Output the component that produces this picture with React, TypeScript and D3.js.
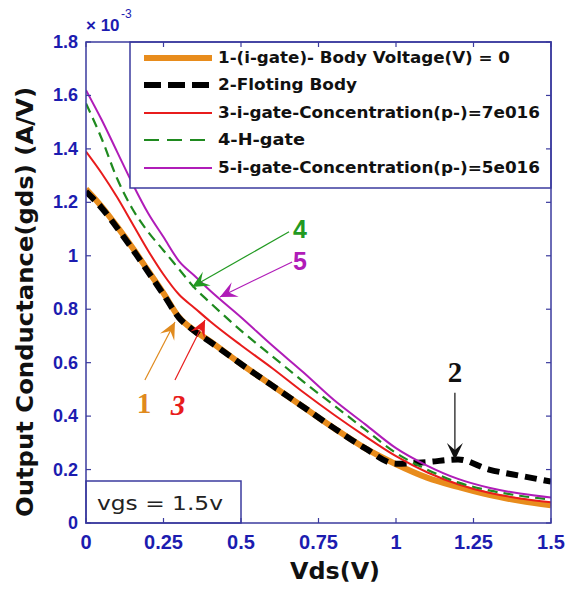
import React from "react";
import * as d3 from "d3";

const X = [0, 0.05, 0.1, 0.15, 0.2, 0.25, 0.3, 0.35, 0.4, 0.5, 0.6, 0.7, 0.8, 0.9, 1.0, 1.1, 1.2, 1.3, 1.4, 1.5];
const ORANGE = [1.25, 1.185, 1.11, 1.03, 0.945, 0.86, 0.77, 0.72, 0.68, 0.595, 0.515, 0.435, 0.355, 0.28, 0.22, 0.17, 0.135, 0.105, 0.083, 0.066];
const BLACK = [1.24, 1.18, 1.105, 1.025, 0.94, 0.855, 0.768, 0.718, 0.678, 0.595, 0.515, 0.435, 0.355, 0.28, 0.222, 0.228, 0.238, 0.2, 0.177, 0.155];
const RED = [1.39, 1.31, 1.22, 1.12, 1.02, 0.93, 0.855, 0.805, 0.755, 0.665, 0.58, 0.49, 0.405, 0.325, 0.25, 0.19, 0.145, 0.113, 0.092, 0.078];
const GREEN = [1.57, 1.44, 1.29, 1.175, 1.09, 1.02, 0.95, 0.88, 0.825, 0.72, 0.625, 0.53, 0.44, 0.35, 0.262, 0.2, 0.152, 0.122, 0.102, 0.088];
const PURPLE = [1.62, 1.51, 1.39, 1.27, 1.16, 1.07, 0.98, 0.925, 0.87, 0.77, 0.665, 0.565, 0.46, 0.37, 0.28, 0.215, 0.165, 0.132, 0.11, 0.095];

const LEGEND = [
  "1-(i-gate)- Body Voltage(V) = 0",
  "2-Floting Body",
  "3-i-gate-Concentration(p-)=7e016",
  "4-H-gate",
  "5-i-gate-Concentration(p-)=5e016",
];
const X_TICKS = [0, 0.25, 0.5, 0.75, 1, 1.25, 1.5];
const X_TICK_LABELS = ["0", "0.25", "0.5", "0.75", "1", "1.25", "1.5"];
const Y_TICKS = [0, 0.2, 0.4, 0.6, 0.8, 1, 1.2, 1.4, 1.6, 1.8];
const Y_TICK_LABELS = ["0", "0.2", "0.4", "0.6", "0.8", "1", "1.2", "1.4", "1.6", "1.8"];

// annotations in data coordinates: label, label baseline pos, arrow tail, arrow tip
const ANNOTATIONS = [
  { label: "4", color: "#229a22", font: "Liberation Sans", italic: false, lx: 0.69, ly: 1.067, tx: 0.655, ty: 1.09, hx: 0.342, hy: 0.883 },
  { label: "5", color: "#b01cb8", font: "Liberation Sans", italic: false, lx: 0.69, ly: 0.947, tx: 0.665, ty: 0.977, hx: 0.432, hy: 0.846 },
  { label: "1", color: "#e08a1e", font: "Liberation Serif", italic: false, lx: 0.187, ly: 0.412, tx: 0.19, ty: 0.535, hx: 0.287, hy: 0.752 },
  { label: "3", color: "#e81c1c", font: "Liberation Serif", italic: true, lx: 0.297, ly: 0.404, tx: 0.287, ty: 0.535, hx: 0.384, hy: 0.76 },
  { label: "2", color: "#111111", font: "Liberation Serif", italic: false, lx: 1.19, ly: 0.528, tx: 1.19, ty: 0.487, hx: 1.19, hy: 0.236 },
];

const W = 567, H = 591;
const L = 86, R = 551, T = 42, B = 523;
const AXIS = "#3b3b9e";
const BLUE = "#1c1cb0";

export default function App() {
  const x = d3.scaleLinear().domain([0, 1.5]).range([L, R]);
  const y = d3.scaleLinear().domain([0, 1.8]).range([B, T]);
  const line = (vals: number[]) =>
    d3.line<number>().x((_, i) => x(X[i])).y((d) => y(d)).curve(d3.curveMonotoneX)(vals) || "";

  const series = [
    { vals: ORANGE, color: "#e88c1c", w: 6, dash: "" },
    { vals: BLACK, color: "#000", w: 6, dash: "12,7" },
    { vals: RED, color: "#e81c1c", w: 2, dash: "" },
    { vals: GREEN, color: "#1f8a1f", w: 2.2, dash: "10,6" },
    { vals: PURPLE, color: "#b01cb8", w: 2, dash: "" },
  ];

  const legendEnds = [510, 357, 540, 305, 540];
  const legendYs = [58, 85, 113, 140, 168];

  const arrowHead = (hx: number, hy: number, tx: number, ty: number) => {
    const dx = hx - tx, dy = hy - ty;
    const len = Math.hypot(dx, dy);
    const ux = dx / len, uy = dy / len;
    const px = -uy, py = ux;
    const Lh = 17, Wh = 8, notch = 10;
    const p1 = [hx, hy];
    const p2 = [hx - ux * Lh + px * Wh, hy - uy * Lh + py * Wh];
    const p3 = [hx - ux * notch, hy - uy * notch];
    const p4 = [hx - ux * Lh - px * Wh, hy - uy * Lh - py * Wh];
    return [p1, p2, p3, p4].map((p) => p.join(",")).join(" ");
  };

  return (
    <svg width={W} height={H} style={{ position: "absolute", left: 0, top: 0, background: "#fff" }}>
      <defs>
        <clipPath id="plotclip">
          <rect x={L} y={T} width={R - L} height={B - T} />
        </clipPath>
      </defs>
      {/* curves */}
      <g clipPath="url(#plotclip)">
        {series.map((s, i) => (
          <path key={i} d={line(s.vals)} fill="none" stroke={s.color} strokeWidth={s.w} strokeDasharray={s.dash || undefined} />
        ))}
      </g>
      {/* legend box */}
      <rect x={130} y={T} width={R - 130} height={188 - T} fill="#fff" stroke={AXIS} strokeWidth={1.5} />
      {series.map((s, i) => (
        <line key={i} x1={144} x2={212} y1={legendYs[i]} y2={legendYs[i]} stroke={s.color}
          strokeWidth={i < 2 ? 6 : 2.2} strokeDasharray={i === 1 ? "17,7" : i === 3 ? "15,8" : undefined} />
      ))}
      {LEGEND.map((t, i) => (
        <text key={i} x={218} y={legendYs[i] + 5} fontFamily="DejaVu Sans" fontWeight="bold" fontSize={15}
          textLength={legendEnds[i] - 218} lengthAdjust="spacingAndGlyphs" fill="#111">{t}</text>
      ))}
      {/* vgs box */}
      <rect x={L} y={481} width={x(0.5) - L} height={B - 481} fill="#fff" stroke={AXIS} strokeWidth={1.5} />
      <text x={97} y={510} fontFamily="DejaVu Sans" fontSize={20} textLength={126} lengthAdjust="spacingAndGlyphs" fill="#222">vgs = 1.5v</text>
      {/* annotations */}
      {ANNOTATIONS.map((a, i) => (
        <g key={i}>
          <line x1={x(a.tx)} y1={y(a.ty)} x2={x(a.hx)} y2={y(a.hy)} stroke={a.color} strokeWidth={1.2} />
          <polygon points={arrowHead(x(a.hx), y(a.hy), x(a.tx), y(a.ty))} fill={a.color} />
          <text x={x(a.lx)} y={y(a.ly)} textAnchor="middle" fontFamily={a.font} fontWeight="bold"
            fontSize={a.font === "Liberation Sans" ? 25 : 29} fill={a.color} fontStyle={a.italic ? "italic" : "normal"}>{a.label}</text>
        </g>
      ))}
      {/* axes frame */}
      <rect x={L} y={T} width={R - L} height={B - T} fill="none" stroke={AXIS} strokeWidth={1.5} />
      {Y_TICKS.map((t, i) => (
        <g key={i}>
          <line x1={L} x2={L + 5} y1={y(t)} y2={y(t)} stroke={AXIS} strokeWidth={1.2} />
          <line x1={R} x2={R - 5} y1={y(t)} y2={y(t)} stroke={AXIS} strokeWidth={1.2} />
          <text x={78} y={y(t) + 6} textAnchor="end" fontFamily="Liberation Sans" fontWeight="bold" fontSize={18} fill={BLUE}>
            {Y_TICK_LABELS[i]}
          </text>
        </g>
      ))}
      {X_TICKS.map((t, i) => (
        <g key={i}>
          <line x1={x(t)} x2={x(t)} y1={B} y2={B - 5} stroke={AXIS} strokeWidth={1.2} />
          <line x1={x(t)} x2={x(t)} y1={T} y2={T + 5} stroke={AXIS} strokeWidth={1.2} />
          <text x={x(t)} y={549} textAnchor="middle" fontFamily="Liberation Sans" fontWeight="bold" fontSize={20} fill={BLUE}>
            {X_TICK_LABELS[i]}
          </text>
        </g>
      ))}
      {/* multiplier */}
      <text x={86} y={31} fontFamily="Liberation Sans" fontWeight="bold" fontSize={17} fill={BLUE}>× 10</text>
      <text x={121} y={18} fontFamily="Liberation Sans" fontSize={12} fill={BLUE}>-3</text>
      {/* axis titles */}
      <text x={335} y={579} textAnchor="middle" fontFamily="DejaVu Sans" fontWeight="bold" fontSize={23}
        textLength={90} lengthAdjust="spacingAndGlyphs" fill="#111">Vds(V)</text>
      <text transform="translate(33,302) rotate(-90)" textAnchor="middle" fontFamily="DejaVu Sans" fontWeight="bold"
        fontSize={23} textLength={430} lengthAdjust="spacingAndGlyphs" fill="#111">Output Conductance(gds) (A/V)</text>
    </svg>
  );
}
